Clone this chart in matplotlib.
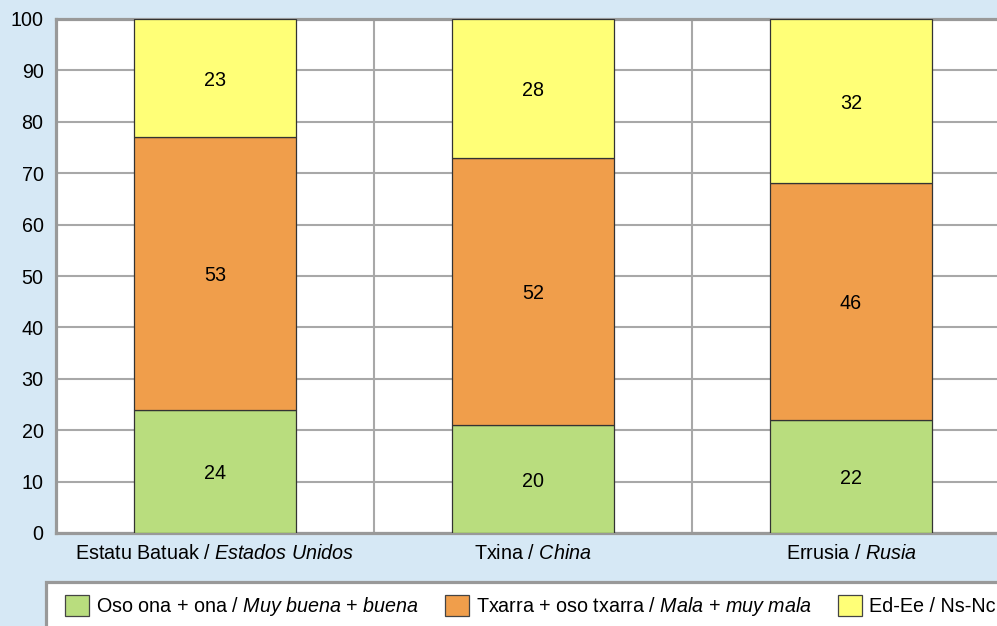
import matplotlib.pyplot as plt
from matplotlib.patches import Patch, Rectangle

# Data
categories = ["Estatu Batuak / $\\mathit{Estados\\ Unidos}$",
              "Txina / $\\mathit{China}$",
              "Errusia / $\\mathit{Rusia}$"]
good = [24, 21, 22]
bad = [53, 52, 46]
dk = [23, 27, 32]
good_labels = ["24", "20", "22"]
bad_labels = ["53", "52", "46"]
dk_labels = ["23", "28", "32"]
series_names = ["Oso ona + ona / $\\mathit{Muy\\ buena}$ + $\\mathit{buena}$",
                "Txarra + oso txarra / $\\mathit{Mala}$ + $\\mathit{muy\\ mala}$",
                "Ed-Ee / Ns-Nc"]
colors = ["#b9dd7e", "#f09e4b", "#ffff77"]

plt.rcParams['font.family'] = ['Liberation Sans', 'DejaVu Sans']
plt.rcParams['mathtext.fontset'] = 'custom'
plt.rcParams['mathtext.rm'] = 'Liberation Sans'
plt.rcParams['mathtext.it'] = 'Liberation Sans:italic'
plt.rcParams['font.size'] = 14.2

W, H = 997, 626
fig = plt.figure(figsize=(W / 100, H / 100), dpi=100)
fig.patch.set_facecolor("#d6e8f5")

ax = fig.add_axes([56 / W, 1 - 533 / H, (1010 - 56) / W, (533 - 19) / H])
ax.set_facecolor("white")

x = range(len(categories))
width = 0.51
bottoms2 = [g + b for g, b in zip(good, bad)]
ax.bar(x, good, width, color=colors[0], edgecolor="#333333", linewidth=0.9, zorder=3)
ax.bar(x, bad, width, bottom=good, color=colors[1], edgecolor="#333333", linewidth=0.9, zorder=3)
ax.bar(x, dk, width, bottom=bottoms2, color=colors[2], edgecolor="#333333", linewidth=0.9, zorder=3)

for i in x:
    ax.text(i, good[i] / 2, good_labels[i], ha="center", va="center_baseline", zorder=4)
    ax.text(i, good[i] + bad[i] / 2, bad_labels[i], ha="center", va="center_baseline", zorder=4)
    ax.text(i, bottoms2[i] + dk[i] / 2, dk_labels[i], ha="center", va="center_baseline", zorder=4)

ax.set_xlim(-0.5, 2.5)
ax.set_ylim(0, 100)
ax.set_yticks(range(0, 101, 10))
ax.set_xticks(list(x))
ax.set_xticklabels(categories)
ax.set_xticks([0.5, 1.5], minor=True)
ax.tick_params(axis="both", which="both", length=0)
ax.tick_params(axis="y", pad=9)
ax.tick_params(axis="x", pad=8)
ax.grid(axis="y", color="#a8a8a8", linewidth=1.5, zorder=1)
ax.grid(axis="x", which="minor", color="#a8a8a8", linewidth=1.5, zorder=1)
for side in ["left", "bottom", "top", "right"]:
    ax.spines[side].set_color("#999999")
    ax.spines[side].set_linewidth(2.3)

# legend box runs past the right and bottom edges, as in the original
box = Rectangle((46 / W, -0.1), 1.0, (1 - 582 / H) + 0.1, transform=fig.transFigure,
                facecolor="white", edgecolor="#999999", linewidth=2.3)
fig.patches.append(box)

handles = [Patch(facecolor=c, edgecolor="#444444", linewidth=0.9) for c in colors]
leg = fig.legend(handles, series_names, loc="upper left", ncol=3,
                 bbox_to_anchor=(65 / W, 1 - 595 / H), frameon=False,
                 handlelength=1.22, handleheight=1.3, handletextpad=0.36,
                 columnspacing=1.3, borderpad=0, borderaxespad=0)

fig.savefig("out.png", dpi=100, facecolor=fig.get_facecolor())
